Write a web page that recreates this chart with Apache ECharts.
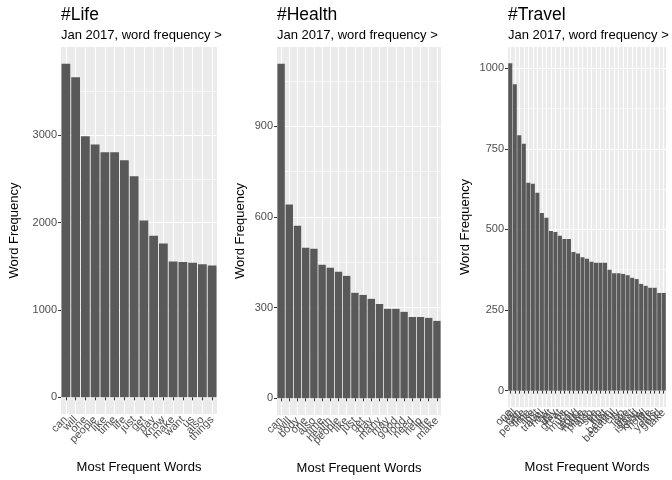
<!DOCTYPE html>
<html>
<head>
<meta charset="utf-8">
<script src="https://cdn.jsdelivr.net/npm/echarts@6/dist/echarts.min.js"></script>
<style>
  html, body { margin: 0; padding: 0; background: #fff; }
  #chart1 { width: 672px; height: 480px; }
</style>
</head>
<body>
<div id="chart1"></div>
<script>
// data
var lifeWords = ['can', 'will', 'one', 'people', 'like', 'time', 'life', 'just', 'get', 'day', 'know', 'make', 'want', 'us', 'also', 'things'];
var lifeFreq = [3820, 3665, 2990, 2895, 2805, 2805, 2715, 2530, 2025, 1850, 1760, 1555, 1550, 1540, 1525, 1510];

var healthWords = ['can', 'will', 'body', 'one', 'also', 'time', 'health', 'people', 'like', 'just', 'get', 'day', 'many', 'may', 'good', 'food', 'need', 'help', 'life', 'make'];
var healthFreq = [1107, 641, 571, 498, 495, 442, 432, 419, 405, 349, 342, 329, 312, 296, 296, 286, 269, 269, 266, 256];

var travelWords = ['one', 'will', 'can', 'people', 'time', 'like', 'just', 'travel', 'new', 'get', 'day', 'great', 'us', 'much', 'way', 'world', 'make', 'place', 'also', 'see',
  'trip', 'first', 'beach', 'beautiful', 'city', 'go', 'love', 'best', 'island', 'know', 'hotel', 'life', 'years', 'good', 'take'];
var travelFreq = [1015, 950, 792, 766, 645, 642, 614, 551, 536, 495, 492, 480, 470, 470, 430, 425, 414, 409, 400, 397,
  397, 397, 375, 364, 364, 362, 358, 350, 346, 331, 325, 319, 319, 303, 303];

var lifeTicks = [0, 1000, 2000, 3000];
var lifeMinor = [500, 1500, 2500, 3500];
var healthTicks = [0, 300, 600, 900];
var healthMinor = [150, 450, 750, 1050];
var travelTicks = [0, 250, 500, 750, 1000];
var travelMinor = [125, 375, 625, 875];

var titles = ['#Life', '#Health', '#Travel'];
var subtitles = ['Jan 2017, word frequency > 1500', 'Jan 2017, word frequency > 250', 'Jan 2017, word frequency > 300'];

var font = 'Liberation Sans, Arial, sans-serif';
var myChart = echarts.init(document.getElementById('chart1'));

var option = {
  backgroundColor: '#fff',
  animation: false,
  textStyle: { fontFamily: font },
  title: [],
  grid: [],
  xAxis: [],
  yAxis: [],
  series: []
};

// one ggplot-like panel
function addPanel(i, words, freq, ticks, minor, box) {
  var top = Math.max.apply(null, freq);
  var lo = -0.05 * top, hi = 1.05 * top;

  option.title.push({
    text: titles[i],
    subtext: subtitles[i],
    left: box.left, top: 6, padding: 0,
    itemGap: 5,
    textStyle: { fontSize: 17.5, fontWeight: 'normal', color: '#000', fontFamily: font },
    subtextStyle: { fontSize: 13, color: '#000', fontFamily: font, width: box.clip, overflow: 'truncate', ellipsis: '' }
  });

  option.grid.push({
    left: box.left, top: 47, width: box.width, height: box.height,
    show: true, backgroundColor: '#EBEBEB', borderWidth: 0,
    outerBoundsMode: 'none', containLabel: false
  });

  option.xAxis.push({
    type: 'category', gridIndex: i, data: words,
    name: 'Most Frequent Words', nameLocation: 'middle', nameGap: box.xNameGap,
    nameTextStyle: { fontSize: 13, color: '#000', fontFamily: font },
    axisLine: { show: false },
    axisTick: { show: true, alignWithLabel: true, interval: 0, length: 3, lineStyle: { color: '#333' } },
    axisLabel: { interval: 0, rotate: 45, fontSize: 11, color: '#4D4D4D', margin: 4, fontFamily: font },
    splitLine: { show: true, alignWithLabel: true, interval: 0, lineStyle: { color: '#fff', width: 1.1 } }
  });

  // major lines + labels
  option.yAxis.push({
    type: 'value', gridIndex: i, min: lo, max: hi,
    name: 'Word Frequency', nameLocation: 'middle', nameGap: box.yNameGap, nameRotate: 90,
    nameTextStyle: { fontSize: 13, color: '#000', fontFamily: font },
    axisLine: { show: false },
    axisTick: { show: true, length: 3, customValues: ticks, lineStyle: { color: '#333' } },
    axisLabel: {
      customValues: ticks, fontSize: 11, color: '#4D4D4D', margin: 4, fontFamily: font,
      formatter: function (v) { return String(v); }
    },
    splitLine: { show: true, lineStyle: { color: '#fff', width: 1.1 } }
  });
  // minor lines only
  option.yAxis.push({
    type: 'value', gridIndex: i, min: lo, max: hi,
    axisLine: { show: false },
    axisTick: { show: false, customValues: minor },
    axisLabel: { show: false, customValues: minor },
    splitLine: { show: true, lineStyle: { color: '#fff', width: 0.55 } }
  });

  option.series.push({
    type: 'bar', xAxisIndex: i, yAxisIndex: i * 2, data: freq,
    barWidth: '90%', itemStyle: { color: '#595959' },
    emphasis: { disabled: true }, silent: true
  });
}

addPanel(0, lifeWords, lifeFreq, lifeTicks, lifeMinor,
  { left: 61, width: 156, height: 367, clip: 163, xNameGap: 47, yNameGap: 40 });
addPanel(1, healthWords, healthFreq, healthTicks, healthMinor,
  { left: 277, width: 164, height: 368, clip: 170, xNameGap: 47, yNameGap: 30 });
addPanel(2, travelWords, travelFreq, travelTicks, travelMinor,
  { left: 508, width: 158, height: 360, clip: 163, xNameGap: 54, yNameGap: 36 });

myChart.setOption(option);
</script>
</body>
</html>
